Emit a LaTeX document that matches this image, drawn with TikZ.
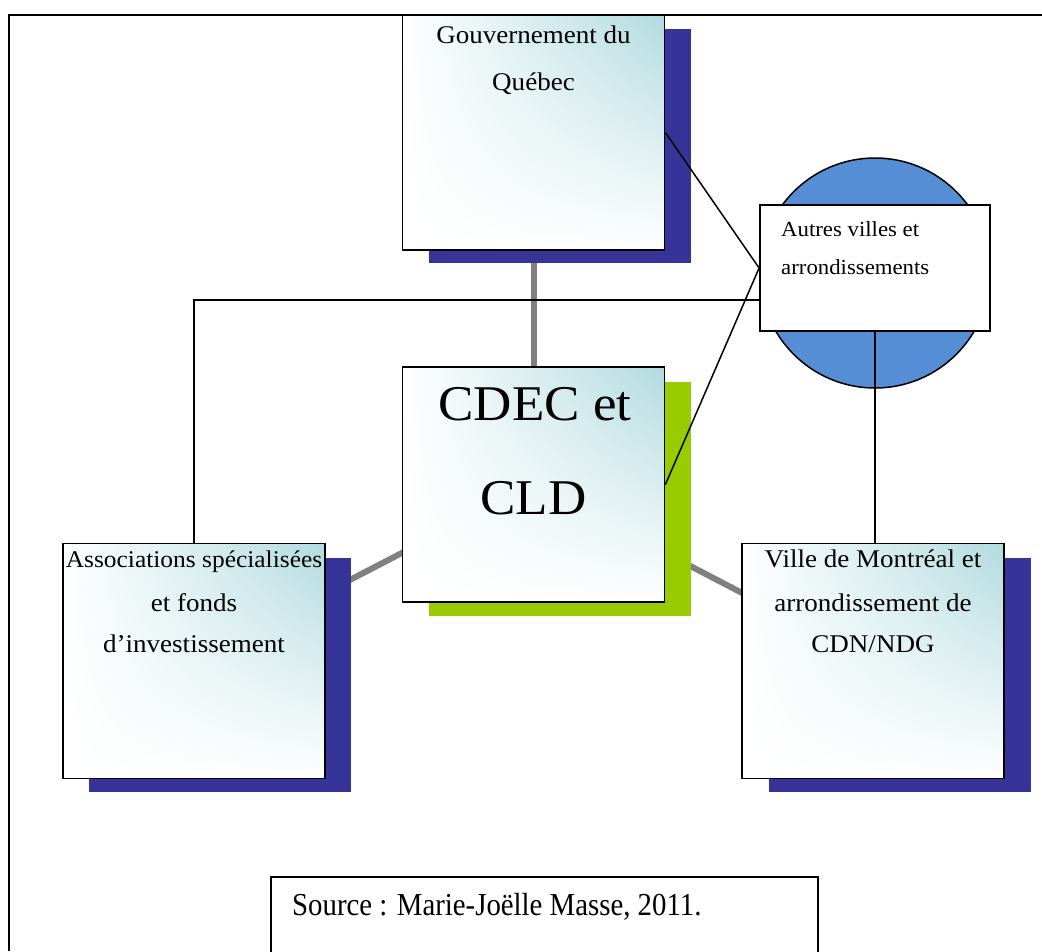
\documentclass[tikz,border=0pt]{standalone}
\usepackage{fontspec}
\setmainfont{Liberation Serif}
\newfontfamily\boxfont[FakeStretch=1.06]{Liberation Serif}
\newfontfamily\srcfont[FakeStretch=0.9]{Liberation Serif}
\usetikzlibrary{backgrounds,shadings}
\definecolor{shadowblue}{RGB}{54,51,153}
\definecolor{shadowgreen}{RGB}{153,204,0}
\definecolor{circblue}{RGB}{85,142,213}
\definecolor{tealtint}{RGB}{178,219,223}
\definecolor{linkgray}{RGB}{128,128,128}
\tikzset{
  bigbox/.style={draw=black, line width=1.8pt, minimum width=262pt, minimum height=235pt,
    inner sep=0pt, upper left=white, upper right=tealtint, lower left=white, lower right=white},
  shadowbox/.style={draw=none, minimum width=262pt, minimum height=234pt, inner sep=0pt},
  graylink/.style={draw=linkgray, line width=6pt},
  link/.style={draw=black, line width=1.5pt},
  frameline/.style={draw=black, line width=2pt},
  txt/.style={inner sep=0pt, font=\boxfont\fontsize{25.5}{30}\selectfont},
  bigtxt/.style={inner sep=0pt, font=\boxfont\fontsize{50}{60}\selectfont},
  smalltxt/.style={inner sep=0pt, font=\boxfont\fontsize{21.5}{25}\selectfont},
}
\begin{document}
\begin{tikzpicture}[x=1pt,y=-1pt]
\useasboundingbox (0,0) rectangle (1042,951);
% frame
\coordinate (fbl) at (9,951);
\coordinate (ftl) at (9,15);
\coordinate (ftr) at (1042,15);
\draw[frameline] (fbl) -- (ftl) -- (ftr);
% shadows
\node[shadowbox, fill=shadowblue]  (gouvsh)  at (560,146) {};
\node[shadowbox, fill=shadowgreen] (cdecsh)  at (560,498.5) {};
\node[shadowbox, fill=shadowblue]  (assocsh) at (220,674.5) {};
\node[shadowbox, fill=shadowblue]  (villesh) at (900,674.5) {};
% boxes
\node[bigbox] (gouv)  at (533.5,132.5) {};
\node[bigbox] (cdec)  at (533.5,484.5) {};
\node[bigbox] (assoc) at (194,661) {};
\node[bigbox] (ville) at (873,661) {};
% circle and small box
\node[circle, draw=black, line width=1.5pt, fill=circblue, minimum size=230pt, inner sep=0pt] (circ) at (875,273) {};
\node[draw=black, line width=1.8pt, fill=white, minimum width=230pt, minimum height=126pt, inner sep=0pt] (autres) at (875,268) {};
% gray links behind
\begin{scope}[on background layer]
\fill[white] (0,0) rectangle (1042,951);
\draw[graylink] (gouv.center) -- (cdec.center);
\draw[graylink] (assoc.center) -- (cdec.center);
\draw[graylink] (ville.center) -- (cdec.center);
\end{scope}
% black links
\draw[link] (gouv.east) -- (autres.west);
\draw[link] (cdec.east) -- (autres.west);
\draw[link] (assoc.north) |- ([yshift=-32pt]autres.west);
\draw[link] (autres.south) -- (autres.south |- ville.north);
% texts
\node[txt, anchor=base] (gouvA) at (533.5,43) {Gouvernement du};
\node[txt, anchor=base] (gouvB) at (533.5,90) {Québec};
\node[bigtxt, anchor=base] (cdecA) at (535,420) {CDEC et};
\node[bigtxt, anchor=base] (cdecB) at (533.5,514) {CLD};
\node[txt, anchor=base, font=\boxfont\fontsize{24}{30}\selectfont] (assocA) at (194,567) {Associations spécialisées};
\node[txt, anchor=base] (assocB) at (194,611) {et fonds};
\node[txt, anchor=base] (assocC) at (194,652) {d’investissement};
\node[txt, anchor=base] (villeA) at (873,567) {Ville de Montréal et};
\node[txt, anchor=base] (villeB) at (873,611) {arrondissement de};
\node[txt, anchor=base] (villeC) at (873,652) {CDN/NDG};
\node[smalltxt, anchor=base west] (autresA) at (781,236) {Autres villes et};
\node[smalltxt, anchor=base west] (autresB) at (781,274) {arrondissements};
% source
\node[draw=black, line width=1.5pt, minimum width=547pt, minimum height=110pt, inner sep=0pt, anchor=north] (srcbox) at (544.5,876) {};
\node[inner sep=0pt, anchor=base west, font=\srcfont\fontsize{32}{38}\selectfont] (srctxt) at (292,915) {Source : Marie-Joëlle Masse, 2011.};
\end{tikzpicture}
\end{document}
